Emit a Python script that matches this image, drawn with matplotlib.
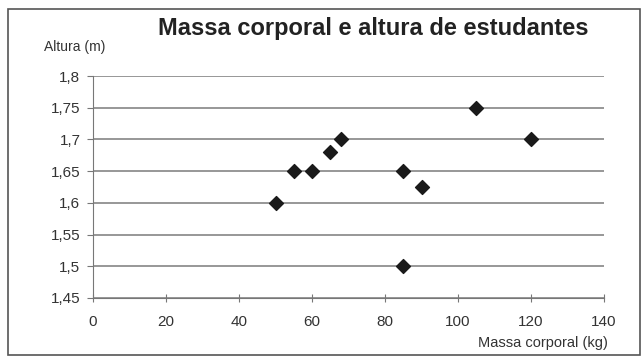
import matplotlib.pyplot as plt
from matplotlib.patches import Rectangle
from matplotlib.ticker import FuncFormatter

massa = [50, 55, 60, 65, 68, 85, 90, 85, 105, 120]
altura = [1.6, 1.65, 1.65, 1.68, 1.7, 1.65, 1.625, 1.5, 1.75, 1.7]
x_ticks = [0, 20, 40, 60, 80, 100, 120, 140]
y_ticks = [1.45, 1.5, 1.55, 1.6, 1.65, 1.7, 1.75, 1.8]

plt.rcParams['font.family'] = ['Liberation Sans', 'DejaVu Sans']
txt = '#333333'

fig = plt.figure(figsize=(6.44, 3.59), dpi=100)
ax = fig.add_axes([0.1444, 0.170, 0.7936, 0.618])

# moldura do grafico
fig.patches.append(Rectangle((8 / 644, 4 / 359), 632 / 644, 346 / 359,
                             transform=fig.transFigure, fill=False,
                             edgecolor='#555555', linewidth=1.2))

ax.scatter(massa, altura, marker='D', s=50, color='#1a1a1a', zorder=3)

ax.set_xlim(0, 140)
ax.set_ylim(1.45, 1.8)
ax.set_xticks(x_ticks)
ax.set_yticks(y_ticks)
ax.yaxis.set_major_formatter(FuncFormatter(lambda v, p: ('%g' % round(v, 3)).replace('.', ',')))
ax.grid(axis='y', color='#7a7a7a', linewidth=1.1)
ax.set_axisbelow(True)

for s in ['top', 'right']:
    ax.spines[s].set_visible(False)
for s in ['left', 'bottom']:
    ax.spines[s].set_color('#777777')
ax.tick_params(axis='both', colors='#777777', labelcolor=txt, labelsize=11, length=4)
ax.tick_params(axis='y', pad=5)
ax.tick_params(axis='x', direction='inout', length=6, pad=9)

fig.text(0.58, 0.922, 'Massa corporal e altura de estudantes', ha='center', va='center',
         fontsize=17, fontweight='bold', color='#222222')
fig.text(0.068, 0.868, 'Altura (m)', ha='left', va='center', fontsize=10, color=txt)
fig.text(0.944, 0.045, 'Massa corporal (kg)', ha='right', va='center', fontsize=10.5, color=txt)

fig.savefig('out.png', dpi=100)
